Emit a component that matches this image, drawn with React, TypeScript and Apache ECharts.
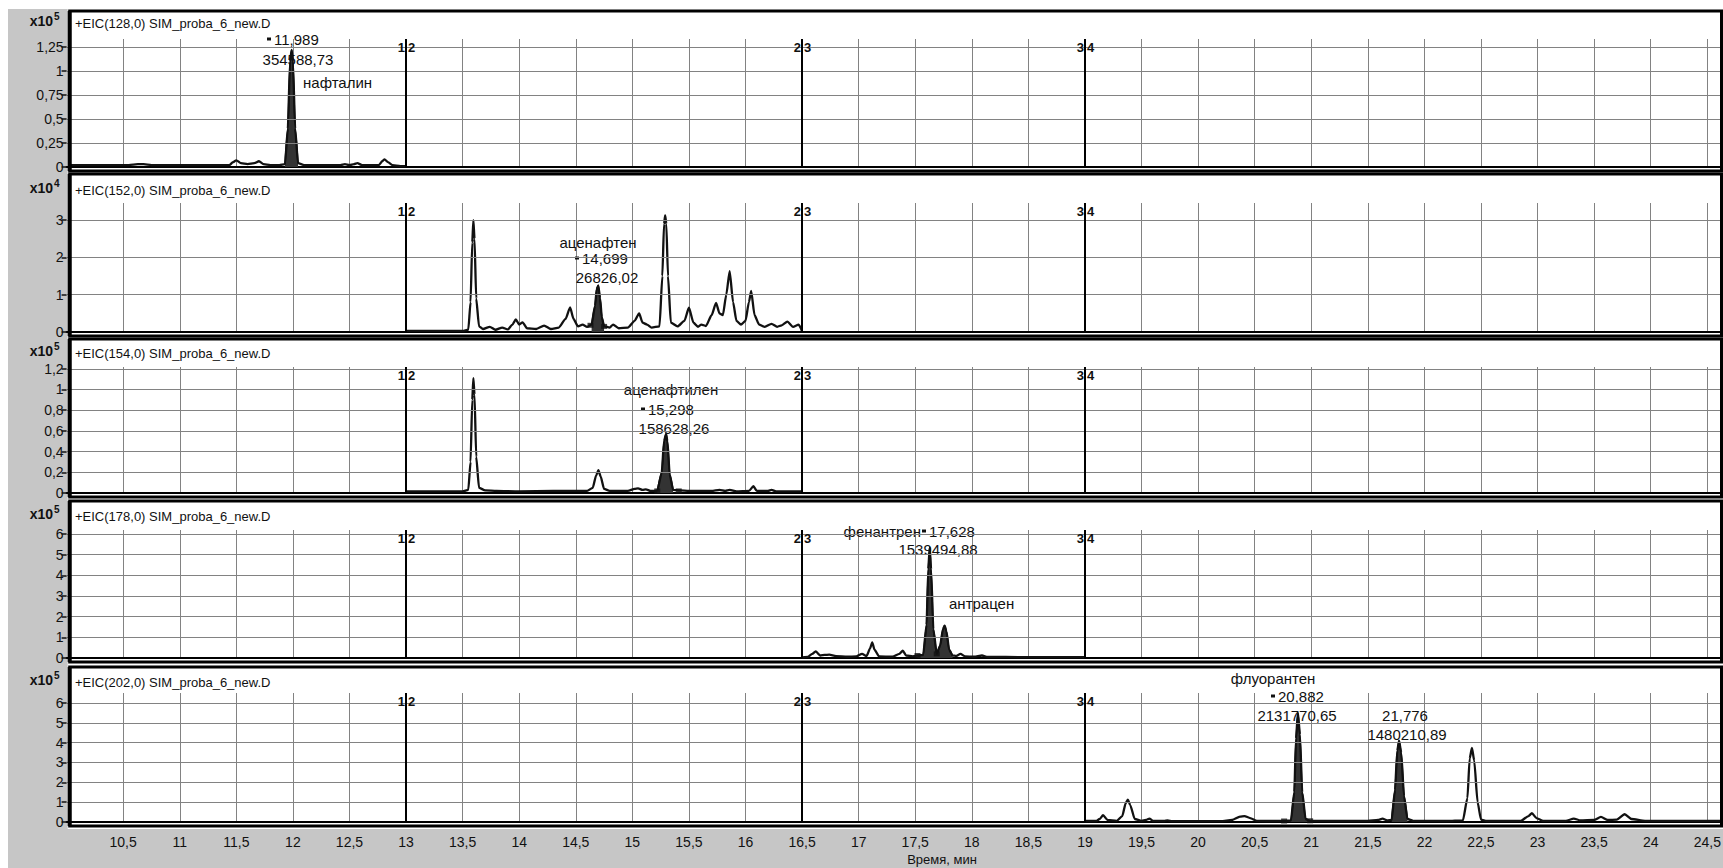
import React, { useEffect, useRef } from "react";
import * as echarts from "echarts";

const FONT = 'Arial, "Liberation Sans", Helvetica, sans-serif';

// ---------------- data ----------------
const timeMin = 10;
const timeMax = 24.63;
const timeStep = 0.5;
const segmentBoundaries = [13, 16.5, 19];
const segmentNames = [["1", "2"], ["2", "3"], ["3", "4"]];

const panelTitles = [
  "+EIC(128,0) SIM_proba_6_new.D",
  "+EIC(152,0) SIM_proba_6_new.D",
  "+EIC(154,0) SIM_proba_6_new.D",
  "+EIC(178,0) SIM_proba_6_new.D",
  "+EIC(202,0) SIM_proba_6_new.D",
];
const panelExponents = ["5", "4", "5", "5", "5"];

const yTicks1 = [0, 0.25, 0.5, 0.75, 1, 1.25];
const yTicks2 = [0, 1, 2, 3];
const yTicks3 = [0, 0.2, 0.4, 0.6, 0.8, 1, 1.2];
const yTicks4 = [0, 1, 2, 3, 4, 5, 6];
const yTicks5 = [0, 1, 2, 3, 4, 5, 6];
const yIntervals = [0.25, 1, 0.2, 1, 1];
const yTopValues = [1.333, 3.46, 1.217, 6.19, 6.5];

// EIC 128 (x10^5)
const eic128 = [
  [10.03, 0.02], [10.3, 0.02], [10.55, 0.02], [10.63, 0.03], [10.68, 0.03], [10.75, 0.02],
  [11.0, 0.02], [11.3, 0.02], [11.44, 0.02], [11.47, 0.05], [11.5, 0.07], [11.54, 0.04],
  [11.6, 0.03], [11.66, 0.04], [11.7, 0.06], [11.74, 0.03], [11.8, 0.02], [11.88, 0.02],
  [11.93, 0.03], [11.955, 0.4], [11.975, 1.1], [11.989, 1.22], [12.0, 1.1], [12.02, 0.4],
  [12.045, 0.04], [12.1, 0.02], [12.3, 0.02], [12.42, 0.02], [12.46, 0.03], [12.5, 0.02],
  [12.54, 0.03], [12.57, 0.04], [12.61, 0.02], [12.76, 0.02], [12.79, 0.06], [12.81, 0.08],
  [12.84, 0.05], [12.88, 0.02], [12.95, 0.01], [13.0, 0.01],
];
// EIC 152 (x10^4)
const eic152 = [
  [13.0, 0.03], [13.3, 0.03], [13.5, 0.03], [13.55, 0.06], [13.57, 0.8], [13.585, 2.4],
  [13.595, 3.0], [13.605, 2.5], [13.62, 0.9], [13.645, 0.15], [13.68, 0.08], [13.74, 0.14],
  [13.79, 0.06], [13.85, 0.12], [13.9, 0.07], [13.94, 0.2], [13.97, 0.34], [14.0, 0.2],
  [14.03, 0.26], [14.07, 0.1], [14.15, 0.08], [14.22, 0.17], [14.28, 0.08], [14.35, 0.12],
  [14.41, 0.35], [14.45, 0.66], [14.48, 0.35], [14.52, 0.15], [14.56, 0.2], [14.6, 0.14],
  [14.64, 0.2], [14.67, 0.7], [14.685, 1.15], [14.699, 1.25], [14.715, 0.9], [14.73, 0.4],
  [14.75, 0.15], [14.8, 0.12], [14.83, 0.2], [14.88, 0.1], [14.96, 0.12], [15.02, 0.3],
  [15.06, 0.5], [15.09, 0.25], [15.13, 0.2], [15.17, 0.12], [15.24, 0.15], [15.265, 1.5],
  [15.28, 2.9], [15.29, 3.13], [15.3, 2.9], [15.315, 1.5], [15.34, 0.25], [15.4, 0.15],
  [15.46, 0.3], [15.5, 0.65], [15.54, 0.25], [15.58, 0.14], [15.61, 0.2], [15.65, 0.16],
  [15.7, 0.45], [15.74, 0.78], [15.77, 0.5], [15.8, 0.45], [15.83, 1.0], [15.86, 1.63],
  [15.89, 0.8], [15.92, 0.3], [15.96, 0.2], [16.0, 0.3], [16.03, 0.8], [16.05, 1.1],
  [16.08, 0.45], [16.12, 0.2], [16.17, 0.14], [16.23, 0.22], [16.28, 0.14], [16.32, 0.18],
  [16.37, 0.28], [16.42, 0.14], [16.47, 0.2], [16.5, 0.02],
];
// EIC 154 (x10^5)
const eic154 = [
  [13.0, 0.015], [13.3, 0.015], [13.5, 0.015], [13.55, 0.03], [13.57, 0.3], [13.585, 0.9],
  [13.595, 1.11], [13.605, 0.95], [13.62, 0.35], [13.645, 0.05], [13.7, 0.025], [13.8, 0.02],
  [14.0, 0.015], [14.3, 0.02], [14.6, 0.02], [14.65, 0.05], [14.68, 0.17], [14.7, 0.22],
  [14.72, 0.16], [14.75, 0.04], [14.8, 0.02], [14.96, 0.02], [15.02, 0.04], [15.05, 0.045],
  [15.09, 0.03], [15.12, 0.035], [15.16, 0.02], [15.22, 0.02], [15.26, 0.2], [15.28, 0.5],
  [15.298, 0.57], [15.31, 0.5], [15.33, 0.18], [15.36, 0.03], [15.42, 0.025], [15.5, 0.02],
  [15.7, 0.02], [15.77, 0.03], [15.82, 0.02], [15.86, 0.03], [15.92, 0.015], [16.03, 0.02],
  [16.07, 0.065], [16.1, 0.02], [16.2, 0.02], [16.23, 0.03], [16.27, 0.015], [16.5, 0.015],
];
// EIC 178 (x10^5)
const eic178 = [
  [16.5, 0.03], [16.55, 0.05], [16.59, 0.2], [16.62, 0.32], [16.66, 0.12], [16.7, 0.15],
  [16.74, 0.16], [16.8, 0.09], [16.9, 0.06], [16.98, 0.08], [17.03, 0.2], [17.07, 0.1],
  [17.1, 0.45], [17.12, 0.76], [17.14, 0.4], [17.18, 0.08], [17.3, 0.06], [17.36, 0.2],
  [17.39, 0.35], [17.42, 0.12], [17.48, 0.08], [17.52, 0.12], [17.57, 0.15], [17.6, 1.6],
  [17.615, 4.3], [17.628, 5.35], [17.64, 4.3], [17.66, 1.4], [17.69, 0.2], [17.72, 0.6],
  [17.745, 1.4], [17.76, 1.57], [17.775, 1.3], [17.8, 0.4], [17.83, 0.12], [17.86, 0.1],
  [17.9, 0.2], [17.94, 0.08], [18.02, 0.06], [18.09, 0.12], [18.14, 0.05], [18.3, 0.05],
  [18.6, 0.04], [19.0, 0.04],
];
// EIC 202 (x10^5)
const eic202 = [
  [19.0, 0.05], [19.1, 0.05], [19.13, 0.15], [19.16, 0.34], [19.2, 0.1], [19.28, 0.06],
  [19.33, 0.3], [19.36, 0.95], [19.38, 1.13], [19.4, 0.85], [19.44, 0.15], [19.5, 0.06],
  [19.54, 0.1], [19.57, 0.17], [19.6, 0.06], [19.7, 0.05], [19.73, 0.08], [19.77, 0.04],
  [20.0, 0.04], [20.2, 0.04], [20.3, 0.1], [20.37, 0.27], [20.41, 0.3], [20.46, 0.2],
  [20.52, 0.06], [20.6, 0.05], [20.76, 0.05], [20.82, 0.08], [20.85, 1.5], [20.865, 4.2],
  [20.882, 5.5], [20.9, 4.4], [20.92, 1.5], [20.95, 0.15], [20.99, 0.06], [21.2, 0.05],
  [21.5, 0.05], [21.59, 0.1], [21.63, 0.17], [21.67, 0.08], [21.71, 0.1], [21.74, 1.6],
  [21.76, 3.6], [21.776, 4.1], [21.795, 3.5], [21.82, 1.3], [21.85, 0.15], [21.9, 0.06],
  [22.2, 0.05], [22.34, 0.08], [22.38, 1.2], [22.4, 3.2], [22.42, 3.73], [22.44, 3.1],
  [22.47, 1.0], [22.5, 0.12], [22.55, 0.05], [22.85, 0.05], [22.92, 0.3], [22.95, 0.44],
  [22.99, 0.2], [23.05, 0.06], [23.25, 0.06], [23.32, 0.17], [23.38, 0.08], [23.5, 0.1],
  [23.56, 0.26], [23.62, 0.1], [23.7, 0.12], [23.77, 0.39], [23.83, 0.15], [23.95, 0.06],
  [24.2, 0.06], [24.4, 0.05], [24.63, 0.05],
];

const traces = [eic128, eic152, eic154, eic178, eic202];
const yTicks = [yTicks1, yTicks2, yTicks3, yTicks4, yTicks5];

// integrated (filled) peak windows, minutes
const fillRanges1 = [[11.93, 12.045]];
const fillRanges2 = [[14.64, 14.75]];
const fillRanges3 = [[15.22, 15.36]];
const fillRanges4 = [[17.52, 17.83]];
const fillRanges5 = [[20.76, 20.99], [21.71, 21.85]];
const fillRanges = [fillRanges1, fillRanges2, fillRanges3, fillRanges4, fillRanges5];

// integration start/end markers [time, value]
const integrationMarks = [
  [],
  [[14.63, 0.18], [14.75, 0.15]],
  [[15.22, 0.02], [15.41, 0.02]],
  [[17.52, 0.12], [17.69, 0.2]],
  [[20.76, 0.05], [20.99, 0.06]],
];

// peak annotations per panel
const annotations = [
  [
    { text: "11,989", x: 274, y: 39, align: "left", mark: true },
    { text: "354588,73", x: 298, y: 59, align: "center" },
    { text: "нафталин", x: 303, y: 82, align: "left" },
  ],
  [
    { text: "аценафтен", x: 598, y: 242, align: "center" },
    { text: "14,699", x: 582, y: 258, align: "left", mark: true },
    { text: "26826,02", x: 607, y: 277, align: "center" },
  ],
  [
    { text: "аценафтилен", x: 671, y: 389, align: "center" },
    { text: "15,298", x: 648, y: 409, align: "left", mark: true },
    { text: "158628,26", x: 674, y: 428, align: "center" },
  ],
  [
    { text: "фенантрен", x: 921, y: 531, align: "right" },
    { text: "17,628", x: 929, y: 531, align: "left", mark: true },
    { text: "1539494,88", x: 938, y: 549, align: "center" },
    { text: "антрацен", x: 949, y: 603, align: "left" },
  ],
  [
    { text: "флуорантен", x: 1273, y: 678, align: "center" },
    { text: "20,882", x: 1278, y: 696, align: "left", mark: true },
    { text: "2131770,65", x: 1297, y: 715, align: "center" },
    { text: "21,776", x: 1405, y: 715, align: "center" },
    { text: "1480210,89", x: 1407, y: 734, align: "center" },
  ],
];

// ---------------- layout ----------------
const W = 1723;
const H = 868;
const GRID_LEFT = 66.6;
const GRID_RIGHT = 1;
const BORDER_LEFT = 69.7;
const BORDER_RIGHT = 1721.5;
const PANELS = [
  { top: 11, bottom: 171, gridTop: 39, zero: 167, titleY: 23 },
  { top: 174, bottom: 336, gridTop: 203, zero: 332, titleY: 190 },
  { top: 339, bottom: 497, gridTop: 367, zero: 493, titleY: 353 },
  { top: 501, bottom: 662, gridTop: 530, zero: 658, titleY: 516 },
  { top: 667, bottom: 826, gridTop: 693, zero: 822, titleY: 682 },
];
const GRID_COLOR = "#828282";
const INK = "#111";
const GRAY = "#c6c6c6";

const fmt = (v: number) => String(Math.round(v * 100) / 100).replace(".", ",");

export default function App() {
  const ref = useRef<HTMLDivElement>(null);

  useEffect(() => {
    const chart = echarts.init(ref.current!, null, { renderer: "svg" });

    const grid = PANELS.map((p) => ({
      left: GRID_LEFT,
      right: GRID_RIGHT,
      top: p.gridTop,
      height: p.zero - p.gridTop,
      outerBoundsMode: "none",
    }));

    const xAxis = PANELS.map((_, i) => ({
      type: "value",
      gridIndex: i,
      min: timeMin,
      max: timeMax,
      interval: timeStep,
      axisLine: { show: true, onZero: false, lineStyle: { color: "#000", width: 2 } },
      axisTick: { show: false },
      axisLabel: {
        show: i === PANELS.length - 1,
        margin: 13,
        fontSize: 14,
        fontFamily: FONT,
        color: INK,
        formatter: (v: number) => {
          const k = v / timeStep;
          if (v < timeMin + 0.01 || Math.abs(k - Math.round(k)) > 1e-6) return "";
          return fmt(v);
        },
      },
      splitLine: { show: true, lineStyle: { color: GRID_COLOR, width: 1 } },
    }));

    const yAxis = PANELS.map((_, i) => {
      const ticks = yTicks[i];
      const top = ticks[ticks.length - 1];
      return {
        type: "value",
        gridIndex: i,
        min: 0,
        max: yTopValues[i],
        interval: yIntervals[i],
        axisLine: { show: false },
        axisTick: {
          show: true,
          length: 5,
          customValues: ticks,
          lineStyle: { color: INK, width: 1.5 },
        },
        axisLabel: {
          customValues: ticks,
          margin: 3,
          fontSize: 14,
          fontFamily: FONT,
          color: INK,
          formatter: (v: number) => {
            const k = v / yIntervals[i];
            if (Math.abs(k - Math.round(k)) > 1e-6 || v > top + 1e-6) return "";
            return fmt(v);
          },
        },
        splitLine: { show: false },
      };
    });

    const series: any[] = [];
    PANELS.forEach((_, i) => {
      const data = traces[i];
      // horizontal grid lines
      series.push({
        type: "line",
        xAxisIndex: i,
        yAxisIndex: i,
        data,
        showSymbol: false,
        silent: true,
        lineStyle: { opacity: 0 },
        z: 1,
        markLine: {
          silent: true,
          symbol: ["none", "none"],
          label: { show: false },
          lineStyle: { color: GRID_COLOR, width: 1, type: "solid" },
          data: yTicks[i].filter((v) => v > 0).map((v) => ({ yAxis: v })),
        },
      });
      // filled integrated peaks
      fillRanges[i].forEach(([a, b]) => {
        series.push({
          type: "line",
          xAxisIndex: i,
          yAxisIndex: i,
          data: data.filter((p) => p[0] >= a - 1e-9 && p[0] <= b + 1e-9),
          showSymbol: false,
          smooth: 0.2,
          smoothMonotone: "x",
          lineStyle: { color: INK, width: 1.5 },
          areaStyle: { color: "#333", opacity: 1 },
          z: 3,
        });
      });
      // trace
      series.push({
        type: "line",
        xAxisIndex: i,
        yAxisIndex: i,
        data,
        showSymbol: false,
        smooth: 0.2,
        smoothMonotone: "x",
        lineStyle: { color: INK, width: 2.3 },
        z: 4,
        markLine: {
          silent: true,
          symbol: ["none", "none"],
          label: { show: false },
          lineStyle: { color: "#000", width: 2, type: "solid" },
          data: segmentBoundaries.map((b) => ({ xAxis: b })),
        },
      });
      if (integrationMarks[i].length) {
        series.push({
          type: "scatter",
          xAxisIndex: i,
          yAxisIndex: i,
          data: integrationMarks[i],
          symbol: "rect",
          symbolSize: [6, 5],
          itemStyle: { color: "#111" },
          z: 5,
        });
      }
    });

    chart.setOption({
      animation: false,
      backgroundColor: "#fff",
      grid,
      xAxis,
      yAxis,
      series,
    });

    const text = (t: string, x: number, y: number, opts: any = {}) => ({
      type: "text",
      x,
      y,
      z: opts.z ?? 1,
      silent: true,
      style: {
        text: t,
        fill: opts.fill ?? INK,
        fontSize: opts.fontSize ?? 15,
        fontFamily: FONT,
        fontWeight: opts.fontWeight ?? "normal",
        align: opts.align ?? "left",
        verticalAlign: "middle",
        textAlign: opts.align ?? "left",
        textVerticalAlign: "middle",
      },
    });

    const graphics: any[] = [];
    // scanner-gray margins
    graphics.push({ type: "rect", z: 0, silent: true, shape: { x: 8, y: 9, width: BORDER_LEFT - 10, height: H - 9 }, style: { fill: GRAY } });
    graphics.push({ type: "rect", z: 0, silent: true, shape: { x: 8, y: 829, width: W - 8, height: H - 829 }, style: { fill: GRAY } });

    PANELS.forEach((p, i) => {
      graphics.push({
        type: "rect",
        z: 10,
        silent: true,
        shape: { x: BORDER_LEFT, y: p.top, width: BORDER_RIGHT - BORDER_LEFT, height: p.bottom - p.top },
        style: { fill: "none", stroke: "#000", lineWidth: 3 },
      });
      graphics.push({
        type: "line",
        z: 10,
        silent: true,
        shape: { x1: BORDER_LEFT, y1: p.top, x2: BORDER_LEFT, y2: p.bottom },
        style: { stroke: "#000", lineWidth: 4 },
      });
      graphics.push(text(panelTitles[i], 75, p.titleY, { fontSize: 13 }));
      graphics.push(text("x10", 53, p.titleY - 2, { fontSize: 14, align: "right", fontWeight: "bold" }));
      graphics.push(text(panelExponents[i], 54, p.titleY - 7, { fontSize: 10, fontWeight: "bold" }));

      segmentBoundaries.forEach((b, j) => {
        const px = chart.convertToPixel({ xAxisIndex: i }, b) as number;
        graphics.push(text(segmentNames[j][0], px - 1, p.gridTop + 8, { fontSize: 13, align: "right", fontWeight: "bold", z: 6 }));
        graphics.push(text(segmentNames[j][1], px + 2, p.gridTop + 8, { fontSize: 13, align: "left", fontWeight: "bold", z: 6 }));
      });

      annotations[i].forEach((a: any) => {
        graphics.push(text(a.text, a.x, a.y, { align: a.align }));
        if (a.mark) {
          graphics.push({
            type: "rect",
            z: 1,
            silent: true,
            shape: { x: a.x - 7, y: a.y - 1.5, width: 4, height: 3 },
            style: { fill: INK },
          });
        }
      });
    });

    graphics.push(text("Время, мин", 942, 859, { fontSize: 13, align: "center" }));

    chart.setOption({ graphic: graphics });

    return () => chart.dispose();
  }, []);

  return (
    <div
      ref={ref}
      style={{ position: "absolute", left: 0, top: 0, width: W, height: H, background: "#fff" }}
    />
  );
}
